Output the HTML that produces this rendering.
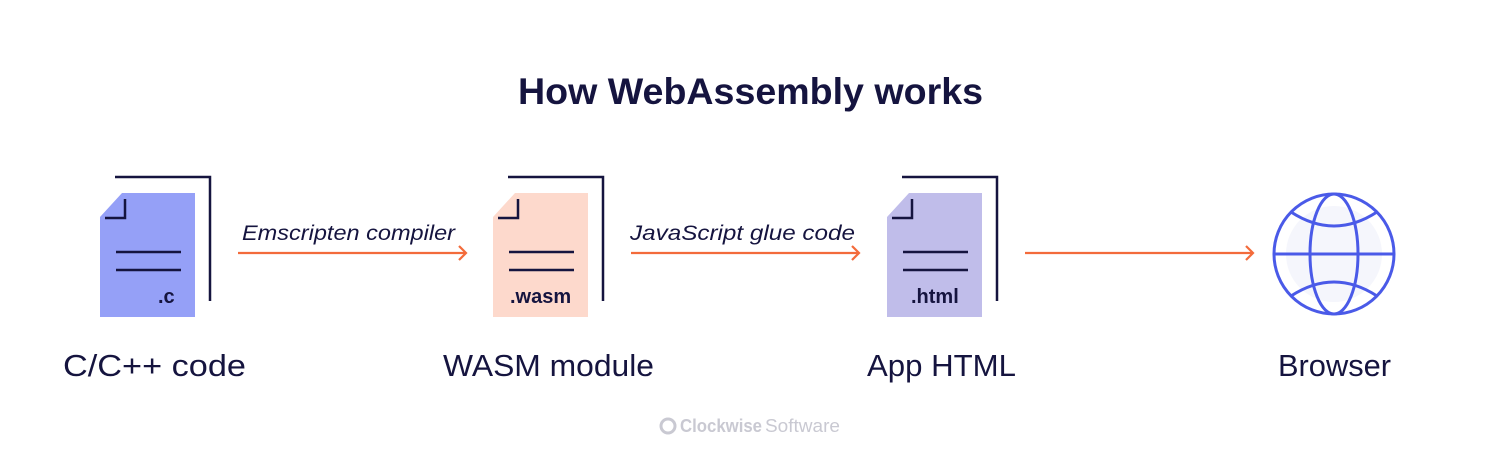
<!DOCTYPE html>
<html><head><meta charset="utf-8"><style>
html,body{margin:0;padding:0;background:#fff;}
svg{display:block;}
text{font-family:"Liberation Sans",sans-serif;fill:#15143f;}
</style></head><body>
<svg width="1500" height="464" viewBox="0 0 1500 464" xmlns="http://www.w3.org/2000/svg">
<text x="518" y="104" font-size="37" font-weight="bold" textLength="465" lengthAdjust="spacingAndGlyphs">How WebAssembly works</text>

<!-- doc 1 -->
<g>
 <path d="M115 177 H210 V301" fill="none" stroke="#15143f" stroke-width="2.5"/>
 <path d="M100 217 L122 193 H195 V317 H100 Z" fill="#95a0f7"/>
 <path d="M105 218 H125 V199" fill="none" stroke="#15143f" stroke-width="2.5"/>
 <path d="M116 252 H181 M116 270 H181" stroke="#15143f" stroke-width="2.5"/>
 <text x="158" y="303" font-size="20" font-weight="bold">.c</text>
</g>
<!-- doc 2 -->
<g>
 <path d="M508 177 H603 V301" fill="none" stroke="#15143f" stroke-width="2.5"/>
 <path d="M493 217 L515 193 H588 V317 H493 Z" fill="#fdd9cc"/>
 <path d="M498 218 H518 V199" fill="none" stroke="#15143f" stroke-width="2.5"/>
 <path d="M509 252 H574 M509 270 H574" stroke="#15143f" stroke-width="2.5"/>
 <text x="510" y="303" font-size="20" font-weight="bold">.wasm</text>
</g>
<!-- doc 3 -->
<g>
 <path d="M902 177 H997 V301" fill="none" stroke="#15143f" stroke-width="2.5"/>
 <path d="M887 217 L909 193 H982 V317 H887 Z" fill="#c0bdea"/>
 <path d="M892 218 H912 V199" fill="none" stroke="#15143f" stroke-width="2.5"/>
 <path d="M903 252 H968 M903 270 H968" stroke="#15143f" stroke-width="2.5"/>
 <text x="911" y="303" font-size="20" font-weight="bold">.html</text>
</g>

<!-- arrows -->
<g stroke="#f36b3b" stroke-width="2.2" fill="none">
 <path d="M238 253 H466 M459 246 L466 253 L459 260"/>
 <path d="M631 253 H859 M852 246 L859 253 L852 260"/>
 <path d="M1025 253 H1253 M1246 246 L1253 253 L1246 260"/>
</g>
<text x="242" y="240" font-size="21" font-style="italic" textLength="213" lengthAdjust="spacingAndGlyphs">Emscripten compiler</text>
<text x="630" y="240" font-size="21" font-style="italic" textLength="225" lengthAdjust="spacingAndGlyphs">JavaScript glue code</text>

<!-- globe -->
<g>
 <circle cx="1334" cy="254" r="48" fill="#f5f6fc"/>
 <g fill="none" stroke="#4a5ae8" stroke-width="3">
  <circle cx="1334" cy="254" r="60"/>
  <ellipse cx="1334" cy="254" rx="24" ry="60"/>
  <path d="M1274 254 H1394"/>
  <path d="M1291 212 Q1334 240 1377 212"/>
  <path d="M1291 296 Q1334 268 1377 296"/>
 </g>
</g>

<text x="63" y="376" font-size="31" textLength="183" lengthAdjust="spacingAndGlyphs">C/C++ code</text>
<text x="443" y="376" font-size="31" textLength="211" lengthAdjust="spacingAndGlyphs">WASM module</text>
<text x="867" y="376" font-size="31" textLength="149" lengthAdjust="spacingAndGlyphs">App HTML</text>
<text x="1278" y="376" font-size="31" textLength="113" lengthAdjust="spacingAndGlyphs">Browser</text>

<g>
 <circle cx="668" cy="426" r="7" fill="none" stroke="#c9c9d2" stroke-width="3"/>
 <text x="680" y="432" font-size="18" font-weight="bold" style="fill:#c9c9d2" textLength="82" lengthAdjust="spacingAndGlyphs">Clockwise</text>
 <text x="765" y="432" font-size="18" style="fill:#c9c9d2" textLength="75" lengthAdjust="spacingAndGlyphs">Software</text>
</g>
</svg>
</body></html>
